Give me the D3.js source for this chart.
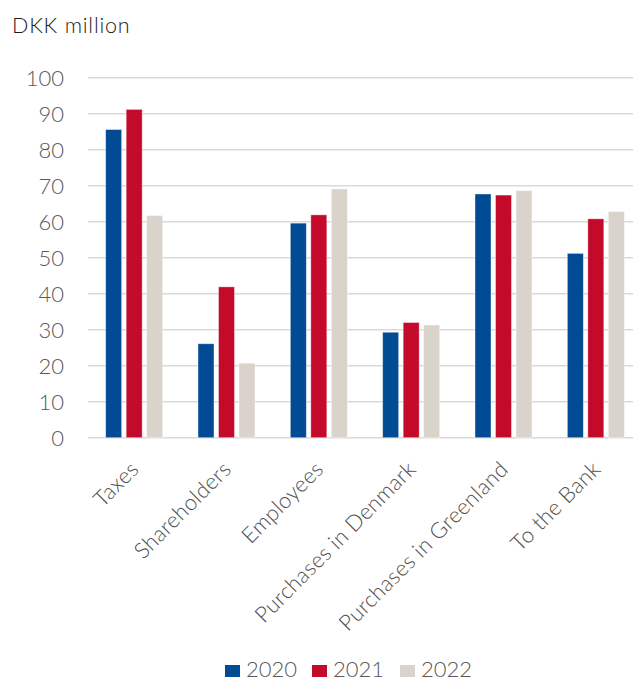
<!DOCTYPE html>
<html>
<head>
<meta charset="utf-8">
<script src="https://cdn.jsdelivr.net/npm/d3@7"></script>
<style>
  html, body { margin: 0; padding: 0; background: #fff; }
  svg { display: block; font-family: Lato, "Open Sans", sans-serif; font-weight: 300; }
</style>
</head>
<body>
<svg id="chart" width="633" height="677"></svg>
<script>
// Value distribution, DKK million
const categories = ["Taxes", "Shareholders", "Employees", "Purchases in Denmark", "Purchases in Greenland", "To the Bank"];
const years = ["2020", "2021", "2022"];
const values2020 = [85.6, 26.1, 59.6, 29.3, 67.7, 51.2];
const values2021 = [91.2, 41.9, 61.9, 32.0, 67.4, 60.8];
const values2022 = [61.7, 20.7, 69.1, 31.3, 68.6, 62.8];
const yTicks = [0, 10, 20, 30, 40, 50, 60, 70, 80, 90, 100];
const colors = ["#004B93", "#C30A2A", "#D9D3CC"];

const seriesValues = [values2020, values2021, values2022];
const rows = categories.map((c, i) => ({
  category: c,
  bars: years.map((yr, j) => ({ year: yr, value: seriesValues[j][i], color: colors[j] }))
}));

const svg = d3.select("#chart");
const plot = { left: 88, right: 642, top: 77.7, bottom: 437.7 };

const x = d3.scaleBand().domain(categories).range([plot.left, plot.right]).paddingInner(0).paddingOuter(0);
const barW = 16, barStep = 20.5;
const xSub = d3.scaleBand().domain(years).range([-barStep * 1.5, barStep * 1.5]);
const y = d3.scaleLinear().domain([0, 100]).range([plot.bottom, plot.top]);

// title
svg.append("text")
  .attr("x", 12).attr("y", 33)
  .attr("fill", "#1a1a1a")
  .style("font-size", "21.5px")
  .style("letter-spacing", "0.8px")
  .text("DKK million");

// gridlines
svg.append("g").selectAll("line")
  .data(yTicks)
  .join("line")
  .attr("x1", plot.left).attr("x2", 633)
  .attr("y1", d => y(d)).attr("y2", d => y(d))
  .attr("stroke", "#D9D9D9")
  .attr("stroke-width", 1.6);

// y axis labels
const yAxis = d3.axisLeft(y).tickValues(yTicks).tickSize(0).tickPadding(0);
const gy = svg.append("g").attr("transform", "translate(64,0)").call(yAxis);
gy.select(".domain").remove();
gy.selectAll("text")
  .attr("fill", "#595959")
  .attr("dy", "0.36em")
  .style("font-size", "22px")
  .style("font-family", "Lato, 'Open Sans', sans-serif")
  .style("font-weight", 300);

// bars
const groups = svg.append("g").selectAll("g")
  .data(rows)
  .join("g")
  .attr("transform", d => `translate(${x(d.category) + x.bandwidth() / 2},0)`);

groups.selectAll("rect")
  .data(d => d.bars)
  .join("rect")
  .attr("x", d => xSub(d.year) + (xSub.bandwidth() - barW) / 2)
  .attr("width", barW)
  .attr("y", d => y(d.value))
  .attr("height", d => y(0) - y(d.value))
  .attr("fill", d => d.color)
  .attr("stroke", "#ffffff")
  .attr("stroke-opacity", 0.5)
  .attr("stroke-width", 0.8);

// category labels
const xAxis = d3.axisBottom(x).tickSize(0).tickPadding(0);
const gx = svg.append("g").attr("transform", `translate(0,${plot.bottom})`).call(xAxis);
gx.select(".domain").remove();
gx.selectAll("text")
  .attr("fill", "#505050")
  .style("font-size", "22px")
  .style("letter-spacing", "0.3px")
  .style("font-family", "Lato, 'Open Sans', sans-serif")
  .style("font-weight", 300)
  .attr("text-anchor", "end")
  .attr("dy", null)
  .attr("y", 0)
  .attr("transform", "translate(6,33) rotate(-45)");

// legend
const legend = svg.append("g");
const legendX = [225, 312, 400];
years.forEach((yr, j) => {
  legend.append("rect")
    .attr("x", legendX[j]).attr("y", 665)
    .attr("width", 15).attr("height", 15)
    .attr("fill", colors[j]);
  legend.append("text")
    .attr("x", legendX[j] + 21).attr("y", 677)
    .attr("fill", "#595959")
    .style("font-size", "22px")
    .text(yr);
});
</script>
</body>
</html>
